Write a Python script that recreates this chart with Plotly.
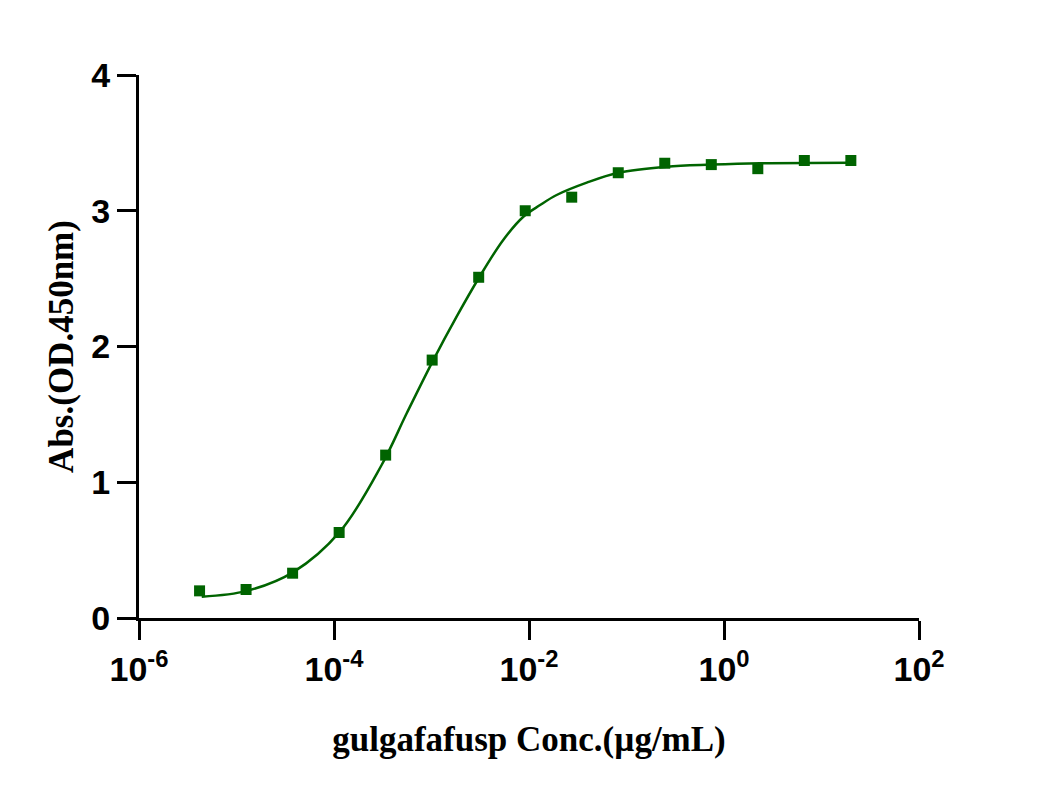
import plotly.graph_objects as go

# measured points (3-fold dilution series, ug/mL)
conc = [4.18e-6, 1.254e-5, 3.763e-5, 1.129e-4, 3.387e-4, 1.016e-3, 3.048e-3,
        9.145e-3, 2.743e-2, 8.23e-2, 0.2469, 0.7407, 2.222, 6.667, 20.0]
absorb = [0.20, 0.21, 0.33, 0.63, 1.20, 1.90, 2.51,
          3.00, 3.10, 3.28, 3.35, 3.34, 3.31, 3.37, 3.37]

# fitted curve
curve_x = [4.4e-6, 1.28e-5, 3.86e-5, 1.15e-4, 3.08e-4, 5.57e-4, 1.04e-3, 1.81e-3,
           3.09e-3, 5.44e-3, 8.75e-3, 1.30e-2, 1.92e-2, 3.91e-2, 8.24e-2, 0.258,
           0.748, 2.34, 19.6]
curve_y = [0.157, 0.20, 0.34, 0.636, 1.127, 1.508, 1.898, 2.22,
           2.51, 2.785, 2.956, 3.042, 3.116, 3.207, 3.28, 3.325,
           3.34, 3.35, 3.354]

tick_vals = [1e-6, 1e-4, 1e-2, 1e0, 1e2]
tick_text = ["10<sup>-6</sup>", "10<sup>-4</sup>", "10<sup>-2</sup>", "10<sup>0</sup>", "10<sup>2</sup>"]

green = "#006400"

fig = go.Figure()
fig.add_trace(go.Scatter(x=curve_x, y=curve_y, mode="lines", line_shape="spline",
                         line=dict(color=green, width=2.5), showlegend=False))
fig.add_trace(go.Scatter(x=conc, y=absorb, mode="markers", cliponaxis=False,
                         marker=dict(symbol="square", size=11, color=green), showlegend=False))

tick_font = dict(family="Liberation Sans", size=34, color="black", weight="bold")
title_font = dict(family="Liberation Serif", size=35, color="black", weight="bold")

fig.update_xaxes(type="log", range=[-6, 2], tickvals=tick_vals, ticktext=tick_text,
                 showline=True, linecolor="black", linewidth=3,
                 ticks="outside", ticklen=19, tickwidth=3, tickcolor="black",
                 showgrid=False, zeroline=False, tickfont=tick_font,
                 title=dict(text="gulgafafusp Conc.(µg/mL)", font=title_font, standoff=40))
fig.update_yaxes(range=[0, 4], tickvals=[0, 1, 2, 3, 4],
                 showline=True, linecolor="black", linewidth=3,
                 ticks="outside", ticklen=19, tickwidth=3, tickcolor="black",
                 showgrid=False, zeroline=False, tickfont=tick_font,
                 title=dict(text="Abs.(OD.450nm)", font=title_font, standoff=8))

# page body adds ~8px offset, so margins are shifted to compensate
fig.update_layout(width=1043, height=806, plot_bgcolor="white", paper_bgcolor="white",
                  margin=dict(l=131, r=132, t=67, b=196))
fig.write_html("out.html")
